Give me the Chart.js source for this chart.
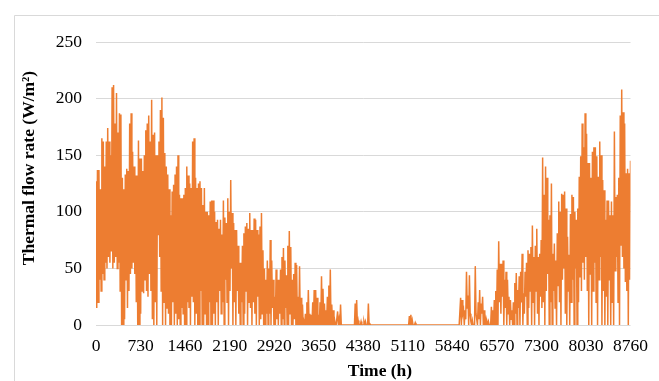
<!DOCTYPE html>
<html>
<head>
<meta charset="utf-8">
<script src="https://cdn.jsdelivr.net/npm/chart.js@4.4.1/dist/chart.umd.min.js"></script>
<style>
  html, body { margin: 0; padding: 0; background: #fff; }
  #wrap { position: relative; width: 659px; height: 381px; }
</style>
</head>
<body>
<div id="wrap"><canvas id="flowChart"></canvas></div>
<script>
// hour ticks shown on the x axis
const xTicks = [0, 730, 1460, 2190, 2920, 3650, 4380, 5110, 5840, 6570, 7300, 8030, 8760];
const yTicks = [0, 50, 100, 150, 200, 250];
const xTitle = 'Time (h)';
const yTitle = 'Thermal flow rate (W/m²)';

// per day: peak and trough (day 0 .. 365)
const dayHigh = [
  127, 137, 137, 120, 165, 162, 140, 162, 174, 162,
  150, 210, 212, 178, 205, 170, 187, 186, 130, 120,
  133, 138, 136, 178, 187, 153, 140, 132, 132, 163,
  147, 147, 136, 150, 172, 178, 185, 162, 199, 168,
  170, 150, 150, 162, 190, 201, 183, 152, 140, 133,
  120, 97, 118, 124, 133, 140, 150, 115, 112, 112,
  115, 121, 140, 132, 125, 121, 162, 165, 130, 121,
  125, 127, 121, 106, 121, 100, 100, 97, 109, 110,
  110, 100, 91, 93, 85, 93, 80, 110, 95, 90,
  112, 100, 128, 99, 90, 84, 84, 70, 55, 55,
  70, 81, 87, 90, 85, 99, 84, 84, 94, 93,
  84, 80, 87, 99, 66, 50, 40, 57, 50, 75,
  57, 40, 25, 49, 40, 40, 49, 60, 68, 57,
  44, 70, 83, 69, 40, 45, 55, 53, 25, 52,
  24, 18, 3, 10, 20, 31, 10, 9, 20, 31,
  31, 24, 9, 20, 43, 32, 19, 13, 25, 35,
  49, 18, 13, 4, 0, 12, 5, 18, 0, 0,
  0, 0, 0, 0, 0, 0, 0, 19, 22, 4,
  0, 3, 0, 3, 3, 0, 19, 1, 0, 0,
  0, 0, 0, 0, 0, 0, 0, 0, 0, 0,
  0, 0, 0, 0, 0, 0, 0, 0, 0, 0,
  0, 0, 0, 0, 8, 9, 4, 0, 2, 0,
  0, 0, 0, 0, 0, 0, 0, 0, 0, 0,
  0, 0, 0, 0, 0, 0, 0, 0, 0, 0,
  0, 0, 0, 0, 0, 0, 0, 0, 0, 24,
  22, 13, 13, 47, 26, 44, 3, 4, 0, 52,
  10, 20, 31, 19, 25, 13, 5, 3, 3, 0,
  16, 13, 22, 30, 49, 74, 54, 54, 57, 40,
  47, 40, 25, 22, 13, 20, 37, 46, 31, 43,
  47, 63, 28, 47, 55, 66, 63, 69, 88, 60,
  70, 85, 60, 63, 75, 148, 115, 140, 130, 93,
  97, 125, 63, 72, 57, 81, 109, 100, 116, 115,
  118, 103, 78, 62, 98, 115, 113, 100, 93, 103,
  131, 149, 178, 157, 187, 169, 143, 143, 130, 153,
  157, 157, 149, 131, 162, 150, 128, 119, 93, 110,
  110, 97, 109, 97, 171, 113, 115, 130, 185, 208,
  188, 178, 134, 138, 134, 145
];

const dayLow = [
  15, 20, 40, 30, 45, 40, 55, 50, 60, 55,
  65, 50, 55, 60, 50, 55, 30, 0, 0, 5,
  40, 15, 30, 45, 50, 55, 45, 20, 0, 0,
  10, 30, 28, 40, 30, 25, 45, 30, 5, 0,
  20, 0, 80, 60, 30, 0, 20, 0, 15, 10,
  0, 0, 20, 0, 10, 0, 5, 0, 15, 10,
  0, 0, 20, 15, 0, 25, 20, 0, 10, 0,
  0, 30, 0, 0, 10, 0, 0, 20, 0, 0,
  10, 0, 20, 0, 30, 10, 20, 0, 40, 20,
  0, 30, 50, 0, 20, 0, 30, 10, 0, 20,
  0, 10, 30, 0, 20, 15, 0, 20, 10, 0,
  25, 0, 5, 10, 0, 0, 10, 0, 10, 0,
  15, 0, 0, 5, 0, 10, 0, 5, 0, 15,
  0, 0, 10, 0, 0, 5, 0, 0, 0, 0,
  0, 0, 0, 0, 0, 0, 0, 0, 0, 0,
  0, 0, 0, 0, 0, 0, 0, 0, 0, 0,
  0, 0, 0, 0, 0, 0, 0, 0, 0, 0,
  0, 0, 0, 0, 0, 0, 0, 0, 0, 0,
  0, 0, 0, 0, 0, 0, 0, 0, 0, 0,
  0, 0, 0, 0, 0, 0, 0, 0, 0, 0,
  0, 0, 0, 0, 0, 0, 0, 0, 0, 0,
  0, 0, 0, 0, 0, 0, 0, 0, 0, 0,
  0, 0, 0, 0, 0, 0, 0, 0, 0, 0,
  0, 0, 0, 0, 0, 0, 0, 0, 0, 0,
  0, 0, 0, 0, 0, 0, 0, 0, 0, 0,
  10, 0, 5, 15, 0, 10, 0, 0, 0, 10,
  0, 5, 0, 10, 0, 0, 0, 0, 0, 0,
  0, 0, 0, 0, 0, 20, 10, 25, 0, 15,
  0, 10, 0, 5, 0, 0, 10, 0, 15, 0,
  20, 0, 10, 25, 0, 15, 30, 0, 20, 0,
  30, 10, 0, 25, 15, 20, 0, 30, 45, 0,
  20, 0, 30, 15, 0, 35, 20, 0, 40, 50,
  10, 0, 30, 0, 20, 40, 0, 50, 0, 20,
  42, 30, 55, 40, 60, 30, 0, 45, 0, 30,
  55, 20, 0, 40, 60, 0, 30, 0, 25, 0,
  40, 0, 20, 0, 48, 60, 20, 0, 70, 60,
  50, 38, 30, 0, 40, 82
];

// peak at the start of each day, trough at midday
const points = [];
dayHigh.forEach((v, d) => {
  points.push({ x: d * 24, y: v });
  points.push({ x: d * 24 + 12, y: dayLow[d] });
});

const fontFamily = '"Liberation Serif", "Times New Roman", serif';
const tickFont = { family: fontFamily, size: 17.5 };

// light frame + bold axis titles
const frameAndTitles = {
  id: 'frameAndTitles',
  beforeDraw(chart) {
    const ctx = chart.ctx;
    ctx.save();
    ctx.fillStyle = '#fff';
    ctx.fillRect(0, 0, chart.width, chart.height);
    ctx.strokeStyle = '#d9d9d9';
    ctx.lineWidth = 1;
    ctx.beginPath();
    ctx.moveTo(14.5, chart.height);
    ctx.lineTo(14.5, 15.5);
    ctx.lineTo(chart.width, 15.5);
    ctx.stroke();
    ctx.restore();
  },
  afterDraw(chart) {
    const ctx = chart.ctx;
    ctx.save();
    ctx.fillStyle = '#000';
    ctx.font = 'bold 17.5px ' + fontFamily;
    ctx.textAlign = 'center';
    ctx.textBaseline = 'middle';
    ctx.fillText(xTitle, 380, 371);
    ctx.translate(29, 168);
    ctx.rotate(-Math.PI / 2);
    ctx.fillText(yTitle, 0, 0);
    ctx.restore();
  }
};

new Chart(document.getElementById('flowChart'), {
  type: 'line',
  data: {
    datasets: [{
      data: points,
      borderColor: '#ED7D31',
      borderWidth: 1.5,
      pointRadius: 0,
      tension: 0,
      fill: false
    }]
  },
  options: {
    responsive: true,
    maintainAspectRatio: false,
    animation: false,
    layout: { padding: { top: 42, right: 25, bottom: 0, left: 0 } },
    plugins: {
      legend: { display: false },
      tooltip: { enabled: false }
    },
    scales: {
      x: {
        type: 'linear',
        min: 0,
        max: 8760,
        afterBuildTicks: s => { s.ticks = xTicks.map(v => ({ value: v })); },
        afterFit: s => { s.height = 56; },
        grid: { display: false, drawTicks: false },
        border: { display: false },
        ticks: {
          color: '#000',
          font: tickFont,
          padding: 11,
          maxRotation: 0,
          autoSkip: false,
          callback: v => String(v)
        }
      },
      y: {
        min: 0,
        max: 250,
        afterBuildTicks: s => { s.ticks = yTicks.map(v => ({ value: v })); },
        afterFit: s => { s.width = 96; },
        grid: { color: '#d9d9d9', lineWidth: 1, drawTicks: false },
        border: { display: false },
        ticks: {
          color: '#000',
          font: tickFont,
          padding: 14,
          callback: v => String(v)
        }
      }
    }
  },
  plugins: [frameAndTitles]
});
</script>
</body>
</html>
